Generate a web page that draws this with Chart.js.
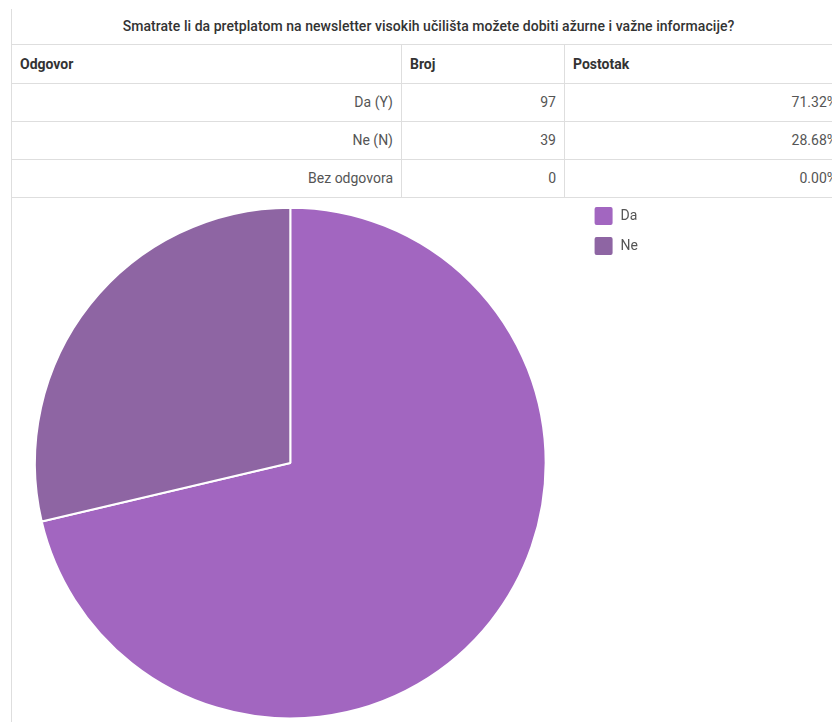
<!DOCTYPE html>
<html>
<head>
<meta charset="utf-8">
<script src="https://cdn.jsdelivr.net/npm/chart.js@4/dist/chart.umd.min.js"></script>
<style>
    html, body { margin: 0; padding: 0; background: #fff; overflow: hidden; }
    body { width: 832px; height: 722px; position: relative; font-family: Roboto, "Noto Sans", sans-serif; }
    #okvir { position: absolute; left: 11px; top: 9px; width: 0; height: 713px; border-left: 1px solid #dedede; }
    #tablica { position: absolute; left: 11px; top: 9px; width: 834px; border-collapse: collapse; table-layout: fixed; }
    #tablica td { box-sizing: border-box; height: 38px; padding: 0 8px; border: 1px solid #dedede; font-size: 14px; color: #555; }
    #tablica td.naslov { height: 35px; border-top: none; text-align: center; color: #333; font-weight: 500; letter-spacing: 0.05px; }
    #tablica tr.zaglavlje td { height: 39px; font-weight: bold; color: #333; }
    #tablica td.desno { text-align: right; }
    #grafWrap { position: absolute; left: -3px; top: 196px; width: 651px; height: 534px; }
</style>
</head>
<body>
<div id="okvir"></div>
<table id="tablica">
    <colgroup><col style="width:390px"><col style="width:163px"><col style="width:281px"></colgroup>
    <tbody id="tijelo"></tbody>
</table>
<div id="grafWrap"><canvas id="graf"></canvas></div>
<script>
// podaci ankete
const pitanje = 'Smatrate li da pretplatom na newsletter visokih učilišta možete dobiti ažurne i važne informacije?';
const zaglavlja = ['Odgovor', 'Broj', 'Postotak'];
const odgovori = ['Da (Y)', 'Ne (N)', 'Bez odgovora'];
const brojevi = [97, 39, 0];
const postoci = ['71.32%', '28.68%', '0.00%'];

const oznakeGrafa = ['Da', 'Ne'];
const vrijednostiGrafa = [97, 39];
const boje = ['#a266c0', '#8e65a3'];

document.addEventListener('DOMContentLoaded', function() {
    // tablica
    const tijelo = document.getElementById('tijelo');
    let html = '<tr><td class="naslov" colspan="3">' + pitanje + '</td></tr>';
    html += '<tr class="zaglavlje">' + zaglavlja.map(z => '<td>' + z + '</td>').join('') + '</tr>';
    odgovori.forEach(function(o, i) {
        html += '<tr><td class="desno">' + o + '</td><td class="desno">' + brojevi[i] +
            '</td><td class="desno">' + postoci[i] + '</td></tr>';
    });
    tijelo.innerHTML = html;

    // pie graf
    const ctx = document.getElementById('graf').getContext('2d');
    new Chart(ctx, {
        type: 'pie',
        data: {
            labels: oznakeGrafa,
            datasets: [{
                data: vrijednostiGrafa,
                backgroundColor: boje,
                borderColor: '#fff',
                borderWidth: 2,
                hoverOffset: 0
            }]
        },
        options: {
            responsive: true,
            maintainAspectRatio: false,
            animation: false,
            radius: '96%',
            layout: { padding: 0 },
            plugins: {
                legend: {
                    position: 'right',
                    align: 'start',
                    labels: {
                        boxWidth: 20,
                        boxHeight: 20,
                        padding: 10,
                        useBorderRadius: true,
                        borderRadius: 3,
                        color: '#555',
                        font: { family: 'Roboto', size: 14 }
                    }
                },
                tooltip: { enabled: false }
            }
        }
    });
});
</script>
</body>
</html>
